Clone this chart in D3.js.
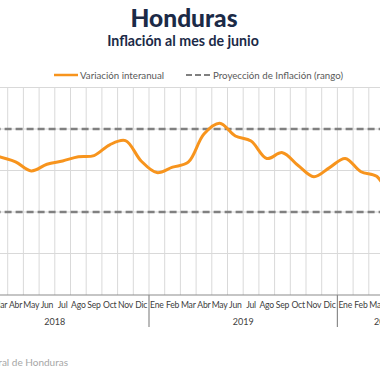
<!DOCTYPE html>
<html><head><meta charset="utf-8">
<script src="https://cdn.jsdelivr.net/npm/d3@7"></script>
<style>
html,body{margin:0;padding:0;background:#fff;}
svg{display:block;overflow:hidden;}
text{font-family:"Lato","Noto Sans",sans-serif;}
</style></head>
<body>
<script>
const monthNames = ["Ene","Feb","Mar","Abr","May","Jun","Jul","Ago","Sep","Oct","Nov","Dic"];
const years = ["2018","2019","2020"];
const monthsPerYear = [12, 12, 6];
const inflation2018 = [4.60, 4.48, 4.33, 4.21, 3.99, 4.15, 4.23, 4.33, 4.36, 4.62, 4.72, 4.23];
const inflation2019 = [3.95, 4.08, 4.20, 4.88, 5.14, 4.83, 4.71, 4.29, 4.43, 4.12, 3.85, 4.07];
const inflation2020 = [4.29, 3.97, 3.86, 3.30, 3.00, 2.70];
const projectionRange = [3, 5];
const yTicks = [1, 2, 3, 4, 5, 6];

const W = 380, H = 380;
const svg = d3.select("body").append("svg").attr("width", W).attr("height", H);

const cats = [];
years.forEach((y, yi) => {
  for (let m = 0; m < monthsPerYear[yi]; m++) cats.push({key: y + "-" + m, year: y, month: monthNames[m]});
});
const values = [...inflation2018, ...inflation2019, ...inflation2020];
const data = cats.map((c, i) => ({...c, v: values[i]}));

const x0 = -39.4, step = 15.7;
const x = d3.scaleBand().domain(cats.map(c => c.key)).range([x0, x0 + step * cats.length]).padding(0);
const y = d3.scaleLinear().domain([1, 6]).range([295, 87.5]);

const g = svg.append("g");
g.selectAll("line.vg").data(cats).enter().append("line")
  .attr("x1", d => x(d.key)).attr("x2", d => x(d.key))
  .attr("y1", y(6)).attr("y2", y(1))
  .attr("stroke", "#d9d9d9").attr("stroke-width", 1);

g.selectAll("line.hg").data(yTicks.filter(t => t > 1)).enter().append("line")
  .attr("x1", x0).attr("x2", W + 60)
  .attr("y1", d => y(d)).attr("y2", d => y(d))
  .attr("stroke", "#d9d9d9").attr("stroke-width", 1);

g.append("line").attr("x1", x0).attr("x2", W + 60)
  .attr("y1", y(1)).attr("y2", y(1)).attr("stroke", "#8c8c8c").attr("stroke-width", 1.2);

let acc = 0;
const yearBounds = [];
years.forEach((yr, yi) => {
  const start = x0 + acc * step;
  const end = start + monthsPerYear[yi] * step;
  yearBounds.push({yr, start, end});
  acc += monthsPerYear[yi];
});
g.selectAll("line.yd").data(yearBounds).enter().append("line")
  .attr("x1", d => d.start).attr("x2", d => d.start)
  .attr("y1", y(1)).attr("y2", 327)
  .attr("stroke", "#8c8c8c").attr("stroke-width", 1.2);

// month labels (only those at least partly inside the picture)
const cx = d => x(d.key) + x.bandwidth() / 2;
g.selectAll("text.ml").data(cats.filter(d => cx(d) > -8 && cx(d) < W + 8)).enter().append("text")
  .attr("x", cx).attr("y", 308)
  .attr("text-anchor", "middle").attr("font-size", 8.6).attr("fill", "#404040")
  .attr("letter-spacing", -0.2)
  .text(d => d.month);

g.selectAll("text.yl").data(yearBounds).enter().append("text")
  .attr("x", d => (d.start + d.end) / 2).attr("y", 325)
  .attr("text-anchor", "middle").attr("font-size", 9).attr("fill", "#404040")
  .text(d => d.yr);

g.selectAll("line.pr").data(projectionRange).enter().append("line")
  .attr("x1", x0).attr("x2", W + 60)
  .attr("y1", d => y(d)).attr("y2", d => y(d))
  .attr("stroke", "#808080").attr("stroke-width", 2.4).attr("stroke-dasharray", "7,4");

const line = d3.line()
  .x(cx)
  .y(d => y(d.v))
  .curve(d3.curveCatmullRom.alpha(0.5));
g.append("path").datum(data).attr("d", line)
  .attr("fill", "none").attr("stroke", "#F7941D").attr("stroke-width", 3)
  .attr("stroke-linejoin", "round");

svg.append("text").attr("x", 184).attr("y", 27).attr("text-anchor", "middle")
  .attr("font-size", 24.5).attr("font-weight", 900).attr("fill", "#1B2A47").text("Honduras");
svg.append("text").attr("x", 183).attr("y", 45.5).attr("text-anchor", "middle")
  .attr("font-size", 14.2).attr("font-weight", 700).attr("fill", "#1B2A47").text("Inflación al mes de junio");

const leg = svg.append("g");
leg.append("line").attr("x1", 54).attr("x2", 78).attr("y1", 75).attr("y2", 75)
  .attr("stroke", "#F7941D").attr("stroke-width", 2.5);
leg.append("text").attr("x", 80).attr("y", 78.5).attr("font-size", 9.7).attr("fill", "#595959")
  .text("Variación interanual");
leg.append("line").attr("x1", 186).attr("x2", 211).attr("y1", 75).attr("y2", 75)
  .attr("stroke", "#808080").attr("stroke-width", 2).attr("stroke-dasharray", "6,3");
leg.append("text").attr("x", 213).attr("y", 78.5).attr("font-size", 9.7).attr("fill", "#595959")
  .text("Proyección de Inflación (rango)");

svg.append("text").attr("x", 68).attr("y", 366).attr("text-anchor", "end")
  .attr("font-size", 10).attr("fill", "#a6a6a6").text("Fuente: Banco Central de Honduras");
</script>
</body></html>
